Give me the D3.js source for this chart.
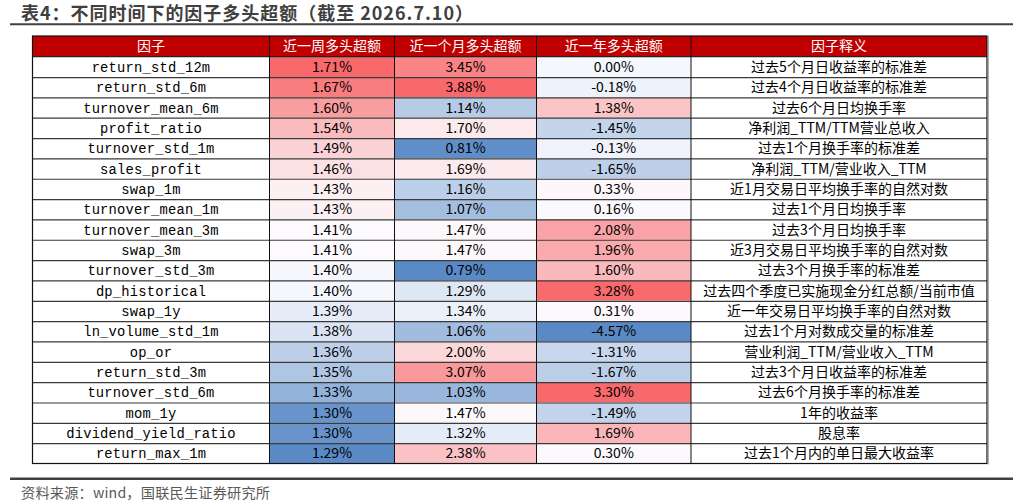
<!DOCTYPE html>
<html>
<head>
<meta charset="utf-8">
<script src="https://cdn.jsdelivr.net/npm/d3@7"></script>
<style>
  body { margin: 0; background: #fff; }
  svg { display: block; }
</style>
</head>
<body>
<svg id="chart"></svg>
<script>
const titleText = '表4：不同时间下的因子多头超额（截至 2026.7.10）';
const sourceText = '资料来源：wind，国联民生证券研究所';
const headers = ['因子', '近一周多头超额', '近一个月多头超额', '近一年多头超额', '因子释义'];

const factors = ['return_std_12m', 'return_std_6m', 'turnover_mean_6m', 'profit_ratio',
  'turnover_std_1m', 'sales_profit', 'swap_1m', 'turnover_mean_1m', 'turnover_mean_3m',
  'swap_3m', 'turnover_std_3m', 'dp_historical', 'swap_1y', 'ln_volume_std_1m', 'op_or',
  'return_std_3m', 'turnover_std_6m', 'mom_1y', 'dividend_yield_ratio', 'return_max_1m'];

const week = [1.71, 1.67, 1.60, 1.54, 1.49, 1.46, 1.43, 1.43, 1.41, 1.41,
  1.40, 1.40, 1.39, 1.38, 1.36, 1.35, 1.33, 1.30, 1.30, 1.29];
const month = [3.45, 3.88, 1.14, 1.70, 0.81, 1.69, 1.16, 1.07, 1.47, 1.47,
  0.79, 1.29, 1.34, 1.06, 2.00, 3.07, 1.03, 1.47, 1.32, 2.38];
const year = [0.00, -0.18, 1.38, -1.45, -0.13, -1.65, 0.33, 0.16, 2.08, 1.96,
  1.60, 3.28, 0.31, -4.57, -1.31, -1.67, 3.30, -1.49, 1.69, 0.30];

const descs = ['过去5个月日收益率的标准差', '过去4个月日收益率的标准差', '过去6个月日均换手率',
  '净利润_TTM/TTM营业总收入', '过去1个月换手率的标准差', '净利润_TTM/营业收入_TTM',
  '近1月交易日平均换手率的自然对数', '过去1个月日均换手率', '过去3个月日均换手率',
  '近3月交易日平均换手率的自然对数', '过去3个月换手率的标准差', '过去四个季度已实施现金分红总额/当前市值',
  '近一年交易日平均换手率的自然对数', '过去1个月对数成交量的标准差', '营业利润_TTM/营业收入_TTM',
  '过去3个月日收益率的标准差', '过去6个月换手率的标准差', '1年的收益率', '股息率', '过去1个月内的单日最大收益率'];

const W = 1030, H = 504;
const svg = d3.select('#chart').attr('width', W).attr('height', H);

const cjk = '"Noto Sans CJK SC", "Noto Sans", sans-serif';
const colEdges = [32.5, 269.5, 394.5, 536.5, 691, 987];
const headTop = 36, headH = 20.7, tableBottom = 463.5;

const y = d3.scaleBand()
  .domain(d3.range(factors.length))
  .range([headTop + headH, tableBottom]);

// Excel style 3 colour scale: min blue, median white, max red
function colorScale(vals) {
  return d3.scaleLinear()
    .domain([d3.min(vals), d3.median(vals), d3.max(vals)])
    .range(['#5A8AC6', '#FCFCFF', '#F8696B'])
    .interpolate(d3.interpolateRgb);
}

const columns = [
  { vals: factors, text: d => d, font: '"Liberation Mono", monospace', size: 13.8, fill: () => '#fff', ls: 0.2 },
  { vals: week, text: d => d.toFixed(2) + '%', font: cjk, size: 14, fill: colorScale(week) },
  { vals: month, text: d => d.toFixed(2) + '%', font: cjk, size: 14, fill: colorScale(month) },
  { vals: year, text: d => d.toFixed(2) + '%', font: cjk, size: 14, fill: colorScale(year) },
  { vals: descs, text: d => d, font: cjk, size: 14, fill: () => '#fff' }
];

// title
svg.append('text')
  .attr('x', 21).attr('y', 20)
  .attr('font-family', cjk).attr('font-weight', 'bold')
  .attr('font-size', 18).attr('fill', '#404040')
  .attr('textLength', 452).attr('lengthAdjust', 'spacing')
  .text(titleText);

svg.append('line')
  .attr('x1', 10).attr('x2', 1013).attr('y1', 24.3).attr('y2', 24.3)
  .attr('stroke', '#404040').attr('stroke-width', 2);

// header
const head = svg.append('g');
head.selectAll('rect').data(headers).join('rect')
  .attr('x', (d, i) => colEdges[i]).attr('y', headTop)
  .attr('width', (d, i) => colEdges[i + 1] - colEdges[i]).attr('height', headH)
  .attr('fill', '#C00000');
head.selectAll('text').data(headers).join('text')
  .attr('x', (d, i) => (colEdges[i] + colEdges[i + 1]) / 2)
  .attr('y', headTop + headH / 2)
  .attr('dy', '0.35em').attr('text-anchor', 'middle')
  .attr('font-family', cjk).attr('font-size', 14).attr('fill', '#fff')
  .text(d => d);

// body cells
columns.forEach((col, ci) => {
  const g = svg.append('g');
  g.selectAll('rect').data(col.vals).join('rect')
    .attr('x', colEdges[ci]).attr('y', (d, i) => y(i))
    .attr('width', colEdges[ci + 1] - colEdges[ci]).attr('height', y.bandwidth())
    .attr('fill', d => col.fill(d));
  g.selectAll('text').data(col.vals).join('text')
    .attr('x', (colEdges[ci] + colEdges[ci + 1]) / 2)
    .attr('y', (d, i) => y(i) + y.bandwidth() / 2)
    .attr('dy', '0.36em').attr('text-anchor', 'middle')
    .attr('font-family', col.font).attr('font-size', col.size)
    .attr('letter-spacing', col.ls || 0)
    .attr('fill', '#000')
    .text(col.text);
});

// grid
const grid = svg.append('g').attr('fill', 'none');
grid.selectAll('line.h').data(d3.range(1, factors.length)).join('line')
  .attr('class', 'h')
  .attr('x1', colEdges[0]).attr('x2', colEdges[5])
  .attr('y1', i => y(i) + 0.5).attr('y2', i => y(i) + 0.5)
  .attr('stroke', '#3a3a3a').attr('stroke-width', 1.2);
grid.append('line')
  .attr('x1', colEdges[0]).attr('x2', colEdges[5])
  .attr('y1', headTop + headH).attr('y2', headTop + headH)
  .attr('stroke', '#222').attr('stroke-width', 1.2);
grid.selectAll('line.v').data(colEdges.slice(1, 5)).join('line')
  .attr('class', 'v')
  .attr('x1', d => d).attr('x2', d => d)
  .attr('y1', headTop).attr('y2', tableBottom)
  .attr('stroke', '#111').attr('stroke-width', 1);
grid.append('rect')
  .attr('x', colEdges[0]).attr('y', headTop)
  .attr('width', colEdges[5] - colEdges[0]).attr('height', tableBottom - headTop)
  .attr('stroke', '#111').attr('stroke-width', 1.2);
grid.append('line')
  .attr('x1', colEdges[5] + 1.3).attr('x2', colEdges[5] + 1.3)
  .attr('y1', headTop).attr('y2', tableBottom + 1)
  .attr('stroke', '#9a9a9a').attr('stroke-width', 1);

// footer
svg.append('line')
  .attr('x1', 10).attr('x2', 1013).attr('y1', 478.7).attr('y2', 478.7)
  .attr('stroke', '#404040').attr('stroke-width', 2.6);

svg.append('text')
  .attr('x', 21).attr('y', 493)
  .attr('dy', '0.35em')
  .attr('font-family', cjk).attr('font-size', 14.2).attr('fill', '#595959')
  .attr('textLength', 249).attr('lengthAdjust', 'spacing')
  .text(sourceText);
</script>
</body>
</html>
